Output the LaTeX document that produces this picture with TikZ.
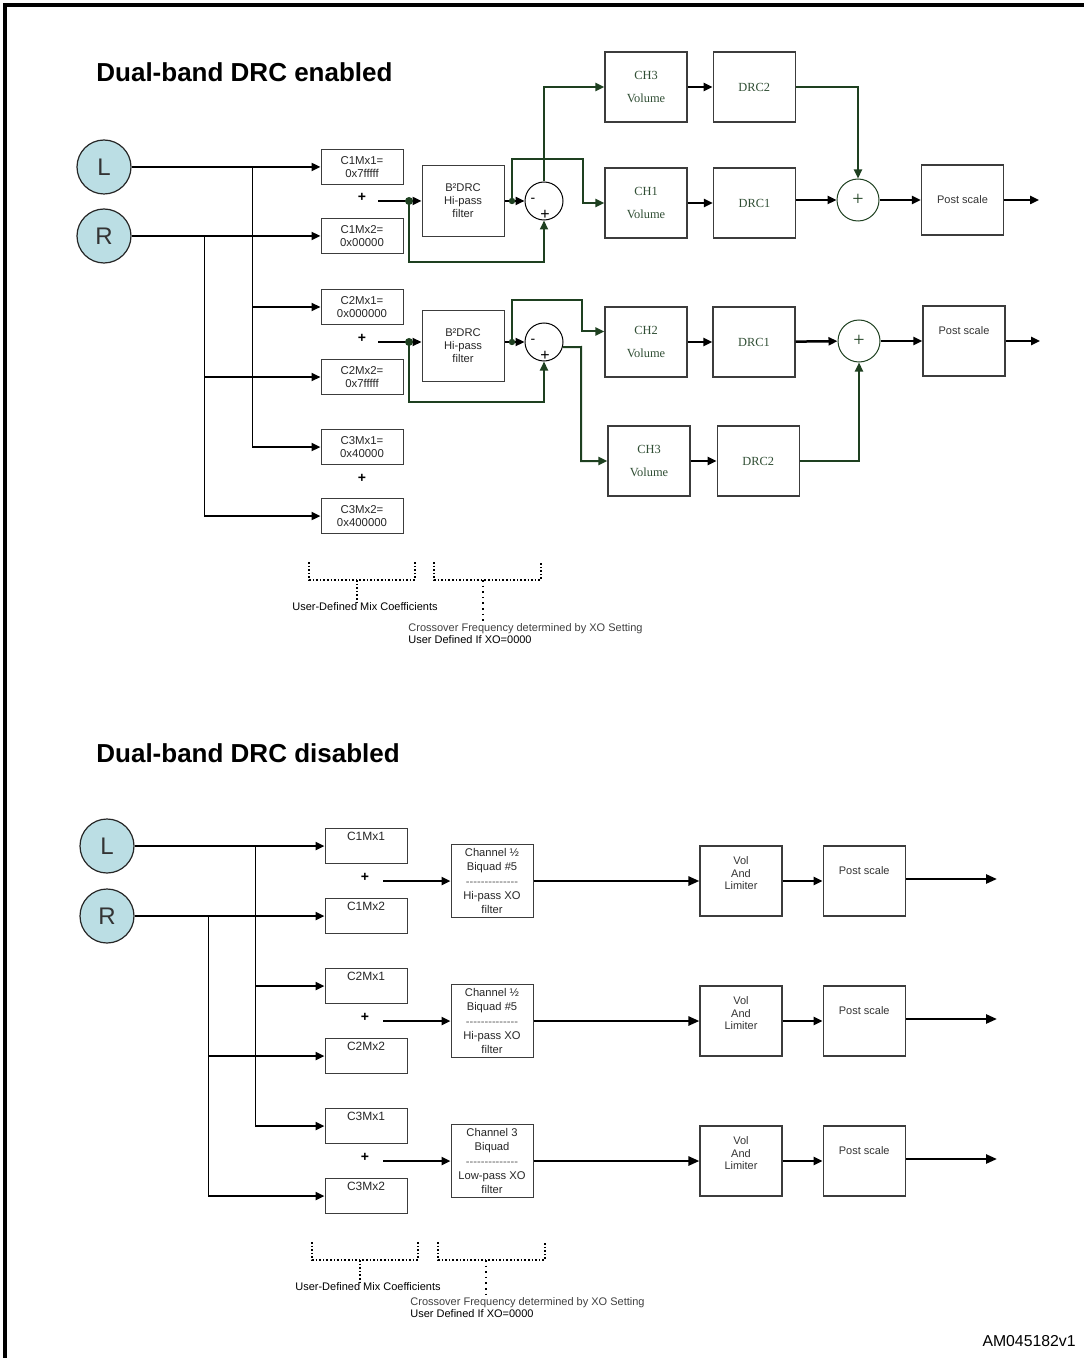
\documentclass[tikz,border=0pt]{standalone}
\usepackage{fontspec}
\setmainfont{Liberation Sans}
\newfontfamily\serifx{Liberation Serif}
\usepackage{tikz}
\usetikzlibrary{arrows.meta}
\usetikzlibrary{positioning}
\definecolor{loopgreen}{RGB}{30,64,32}
\definecolor{chgreen}{RGB}{48,78,52}
\definecolor{srcblue}{RGB}{187,222,228}
\definecolor{boxgray}{RGB}{60,60,60}
\newcommand{\dashrow}{\textcolor{black!65}{{-}{-}{-}{-}{-}{-}{-}{-}{-}{-}{-}{-}{-}{-}}}
\tikzset{src node/.style={circle,fill=srcblue,draw=black!85,line width=0.6pt,minimum size=27pt,inner sep=0pt,font=\fontsize{12}{12}\selectfont,text=black!80}}
\tikzset{mix box/.style={rectangle,draw=boxgray,line width=0.5pt,minimum width=41pt,minimum height=17.5pt,inner sep=0pt,align=center,font=\fontsize{5.7}{6.8}\selectfont,text=black!85}}
\tikzset{top text/.style={label={[anchor=north,yshift=-0.6pt,inner sep=1.5pt,font=\fontsize{6}{6}\selectfont,text=black!85]north:#1}}}
\tikzset{flt box/.style={rectangle,draw=boxgray,line width=0.5pt,minimum width=41pt,minimum height=35.5pt,inner sep=0pt,align=center,font=\fontsize{5.6}{6.5}\selectfont,text=black!85}}
\tikzset{chan box/.style={rectangle,draw=boxgray,line width=0.5pt,minimum width=41pt,minimum height=36.5pt,inner sep=0pt,align=center,font=\fontsize{5.6}{7.1}\selectfont,text=black!85}}
\tikzset{ch box/.style={rectangle,draw=boxgray,line width=0.6pt,minimum width=41pt,minimum height=35pt,inner sep=0pt,align=center,font=\serifx\fontsize{6.2}{11.5}\selectfont,text=chgreen}}
\tikzset{post box/.style={rectangle,draw=boxgray,line width=0.6pt,minimum width=41pt,minimum height=35pt,inner sep=0pt,align=center,font=\fontsize{5.5}{6.25}\selectfont,text=black!80}}
\tikzset{sum node/.style={circle,draw=black,line width=0.5pt,minimum size=19pt,inner sep=0pt}}
\tikzset{add node/.style={circle,draw=loopgreen,line width=0.5pt,minimum size=21pt,inner sep=0pt,font=\serifx\fontsize{10}{10}\selectfont,text=loopgreen}}
\tikzset{plus sign/.style={inner sep=0pt,font=\bfseries\fontsize{7}{7}\selectfont}}
\tikzset{sig/.style={line width=1.25pt,-{Triangle[length=4.5pt,width=4pt]}}}
\tikzset{bigsig/.style={line width=1.25pt,-{Triangle[length=5.5pt,width=4.5pt]}}}
\tikzset{wire/.style={line width=0.5pt}}
\tikzset{fb/.style={draw=loopgreen,line width=1pt,-{Triangle[length=4.5pt,width=4pt]}}}
\tikzset{bracket/.style={line width=0.8pt,densely dotted}}
\tikzset{note/.style={inner sep=0pt,font=\fontsize{5.5}{6}\selectfont}}
\begin{document}
\begin{tikzpicture}[x=0.5pt,y=-0.5pt]
    \useasboundingbox (0,0) rectangle (1084,1358);
    \draw[line width=1.6pt] (5,1358) -- (5,5) -- (1084,5);

    % ---- Dual-band DRC enabled ----
    \node[anchor=west,inner sep=0pt,font=\bfseries\fontsize{13}{13}\selectfont] (t_{1}) at (96,72) {Dual-band DRC enabled};

    \node[src node] (L) at (104,167) {L};
    \node[src node] (R) at (104,236) {R};
    \node[mix box] (m_{1}) at (362,167) {C1Mx1=\\0x7fffff};
    \node[mix box] (m_{2}) at (362,236) {C1Mx2=\\0x00000};
    \node[mix box] (m_{3}) at (362,307) {C2Mx1=\\0x000000};
    \node[mix box] (m_{4}) at (362,377) {C2Mx2=\\0x7fffff};
    \node[mix box] (m_{5}) at (362,447) {C3Mx1=\\0x40000};
    \node[mix box] (m_{6}) at (362,516) {C3Mx2=\\0x400000};
    \node[plus sign] (a_{1}) at (362,197) {+};
    \node[plus sign] (a_{2}) at (362,338) {+};
    \node[plus sign] (a_{3}) at (362,478) {+};

    \coordinate (tL) at (252,167);
    \coordinate (tR) at (204,236);
    \draw[sig] (L) -- (m_{1});
    \draw[sig] (R) -- (m_{2});
    \draw[wire] (tL) -- (tL |- m_{5});
    \draw[wire] (tR) -- (tR |- m_{6});
    \draw[sig] (tL |- m_{3}) -- (m_{3});
    \draw[sig] (tL |- m_{5}) -- (m_{5});
    \draw[sig] (tR |- m_{4}) -- (m_{4});
    \draw[sig] (tR |- m_{6}) -- (m_{6});

    % band 1
    \node[flt box] (f_{1}) at (463,201) {B²DRC\\Hi-pass\\filter};
    \node[sum node] (s_{1}) at (544,201) {};
    \node[inner sep=0pt,font=\fontsize{7}{7}\selectfont] (sm_{1}) at (533,200) {-};
    \node[inner sep=0pt,font=\fontsize{8}{8}\selectfont] (sp_{1}) at (545,215) {+};
    \coordinate (o_{1}) at (378,201);
    \coordinate (j_{1}) at (409,201);
    \coordinate (k_{1}) at (512,201);
    \draw[sig] (o_{1}) -- (f_{1});
    \draw[sig] (f_{1}) -- (s_{1});
    \draw[fb] (j_{1}) -- ++(0,61) -| (s_{1});
    \fill[loopgreen] (j_{1}) circle[radius=2pt];
    \fill[loopgreen] (k_{1}) circle[radius=1.6pt];

    \node[ch box] (ch_{3}) at (646,87) {CH3\\Volume};
    \node[ch box] (d_{3}) [right = 12.5pt of ch_{3}] {DRC2};
    \node[ch box] (ch_{1}) at (646,203) {CH1\\Volume};
    \node[ch box] (d_{1}) at (754.5,203) {DRC1};
    \draw[fb] (s_{1}) |- (ch_{3});
    \draw[fb] (k_{1}) |- (583,159) |- (ch_{1});
    \draw[sig] (ch_{3}) -- (d_{3});
    \draw[sig] (ch_{1}) -- (d_{1});

    \node[add node] (s_{3}) at (858,200) {+};
    \node[post box] (p_{1}) at (962.5,200) {Post scale};
    \coordinate (out_{1}) at (1039,200);
    \draw[fb] (d_{3}) -| (s_{3});
    \draw[sig] (d_{1}.east |- s_{3}) -- (s_{3});
    \draw[sig] (s_{3}) -- (p_{1});
    \draw[sig] (p_{1}) -- (out_{1});

    % band 2
    \node[flt box] (f_{2}) at (463,346) {B²DRC\\Hi-pass\\filter};
    \node[sum node] (s_{2}) at (544,342) {};
    \node[inner sep=0pt,font=\fontsize{7}{7}\selectfont] (sm_{2}) at (533,341) {-};
    \node[inner sep=0pt,font=\fontsize{8}{8}\selectfont] (sp_{2}) at (545,356) {+};
    \coordinate (o_{2}) at (378,342);
    \coordinate (j_{2}) at (409,342);
    \coordinate (k_{2}) at (512,342);
    \draw[sig] (o_{2}) -- (o_{2} -| f_{2}.west);
    \draw[sig] (f_{2}.east |- s_{2}) -- (s_{2});
    \draw[fb] (j_{2}) -- ++(0,60) -| (s_{2});
    \fill[loopgreen] (j_{2}) circle[radius=2pt];
    \fill[loopgreen] (k_{2}) circle[radius=1.6pt];

    \node[ch box] (ch_{2}) at (646,342) {CH2\\Volume};
    \node[ch box] (d_{2}) at (754,342) {DRC1};
    \node[ch box] (ch_{4}) at (649,461) {CH3\\Volume};
    \node[ch box] (d_{4}) [right = 13pt of ch_{4}] {DRC2};
    \coordinate (t_{2}) at (581,347);
    \draw[fb] (k_{2}) |- (582,300) |- ([yshift=5.25pt]ch_{2}.west);
    \draw[fb] (s_{2}.-15) -- (t_{2}) |- (ch_{4});
    \draw[sig] (ch_{2}) -- (d_{2});
    \draw[sig] (ch_{4}) -- (d_{4});

    \node[add node] (s_{4}) at (859,341) {+};
    \node[post box] (p_{2}) at (964,341) {Post scale\\[4pt]};
    \coordinate (out_{2}) at (1040,341);
    \draw[fb] (d_{4}) -| (s_{4});
    \draw[sig] (d_{2}) -- (s_{4});
    \draw[sig] (s_{4}) -- (p_{2});
    \draw[sig] (p_{2}) -- (out_{2});

    % brackets
    \draw[bracket] (309,562) -- (309,580) -- (415,580) -- (415,562);
    \draw[bracket] (434,562) -- (434,580) -- (541,580) -- (541,562);
    \node[note] (u_{1}) at (365,607) {User-Defined Mix Coefficients};
    \node[note,anchor=north west,align=left] (x_{1}) at (408,623) {\textcolor{black!75}{Crossover Frequency determined by XO Setting}\\User Defined If XO=0000};
    \coordinate (b_{1}) at (357,580);
    \coordinate (b_{2}) at (483,580);
    \draw[bracket] (b_{1}) -- (b_{1} |- u_{1}.north);
    \draw[line width=0.8pt,dotted] (b_{2}) -- (b_{2} |- x_{1}.north);

    % ---- Dual-band DRC disabled ----
    \node[anchor=west,inner sep=0pt,font=\bfseries\fontsize{13}{13}\selectfont] (t_{2}) at (96,753) {Dual-band DRC disabled};

    \node[src node] (L2) at (107,846) {L};
    \node[src node] (R2) at (107,916) {R};
    \node[mix box,top text=C1Mx1] (n_{1}) at (366,846) {};
    \node[mix box,top text=C1Mx2] (n_{2}) at (366,916) {};
    \node[mix box,top text=C2Mx1] (n_{3}) at (366,986) {};
    \node[mix box,top text=C2Mx2] (n_{4}) at (366,1056) {};
    \node[mix box,top text=C3Mx1] (n_{5}) at (366,1126) {};
    \node[mix box,top text=C3Mx2] (n_{6}) at (366,1196) {};
    \node[plus sign] (pl_{1}) at (365,877) {+};
    \node[plus sign] (pl_{2}) at (365,1017) {+};
    \node[plus sign] (pl_{3}) at (365,1157) {+};

    \coordinate (tL2) at (255,846);
    \coordinate (tR2) at (208,916);
    \draw[sig] (L2) -- (n_{1});
    \draw[sig] (R2) -- (n_{2});
    \draw[wire] (tL2) -- (tL2 |- n_{5});
    \draw[wire] (tR2) -- (tR2 |- n_{6});
    \draw[sig] (tL2 |- n_{3}) -- (n_{3});
    \draw[sig] (tL2 |- n_{5}) -- (n_{5});
    \draw[sig] (tR2 |- n_{4}) -- (n_{4});
    \draw[sig] (tR2 |- n_{6}) -- (n_{6});

    \node[chan box] (q_{1}) at (492,881) {Channel ½\\Biquad \#5\\\dashrow\\Hi-pass XO\\filter};
    \node[chan box] (q_{2}) at (492,1021) {Channel ½\\Biquad \#5\\\dashrow\\Hi-pass XO\\filter};
    \node[chan box] (q_{3}) at (492,1161) {Channel 3\\Biquad\\\dashrow\\Low-pass XO\\filter};
    \coordinate (o_{3}) at (383,881);
    \coordinate (o_{4}) at (383,1021);
    \coordinate (o_{5}) at (383,1161);
    \draw[sig] (o_{3}) -- (q_{1});
    \draw[sig] (o_{4}) -- (q_{2});
    \draw[sig] (o_{5}) -- (q_{3});

    \node[post box] (vl_{1}) at (741,881) {Vol\\And\\Limiter\\[1.5pt]};
    \node[post box] (vl_{2}) at (741,1021) {Vol\\And\\Limiter\\[1.5pt]};
    \node[post box] (vl_{3}) at (741,1161) {Vol\\And\\Limiter\\[1.5pt]};
    \node[post box] (ps_{1}) [right = 20pt of vl_{1}] {Post scale\\[4pt]};
    \node[post box] (ps_{2}) [right = 20pt of vl_{2}] {Post scale\\[4pt]};
    \node[post box] (ps_{3}) [right = 20pt of vl_{3}] {Post scale\\[4pt]};
    \coordinate (e_{1}) at (997,879);
    \coordinate (e_{2}) at (997,1019);
    \coordinate (e_{3}) at (997,1159);
    \draw[bigsig] (q_{1}) -- (vl_{1});
    \draw[bigsig] (q_{2}) -- (vl_{2});
    \draw[bigsig] (q_{3}) -- (vl_{3});
    \draw[sig] (vl_{1}) -- (ps_{1});
    \draw[sig] (vl_{2}) -- (ps_{2});
    \draw[sig] (vl_{3}) -- (ps_{3});
    \draw[bigsig] (ps_{1}.east |- e_{1}) -- (e_{1});
    \draw[bigsig] (ps_{2}.east |- e_{2}) -- (e_{2});
    \draw[bigsig] (ps_{3}.east |- e_{3}) -- (e_{3});

    % brackets
    \draw[bracket] (312,1242) -- (312,1260) -- (418,1260) -- (418,1242);
    \draw[bracket] (438,1242) -- (438,1260) -- (545,1260) -- (545,1242);
    \node[note] (u_{2}) at (368,1287) {User-Defined Mix Coefficients};
    \node[note,anchor=north west,align=left] (x_{2}) at (410,1297) {\textcolor{black!75}{Crossover Frequency determined by XO Setting}\\User Defined If XO=0000};
    \coordinate (b_{3}) at (360,1260);
    \coordinate (b_{4}) at (486,1260);
    \draw[bracket] (b_{3}) -- (b_{3} |- u_{2}.north);
    \draw[line width=0.8pt,dotted] (b_{4}) -- (b_{4} |- x_{2}.north);

    \node[anchor=east,inner sep=0pt,font=\fontsize{7.9}{8}\selectfont] (id) at (1076,1341) {AM045182v1};
\end{tikzpicture}
\end{document}
